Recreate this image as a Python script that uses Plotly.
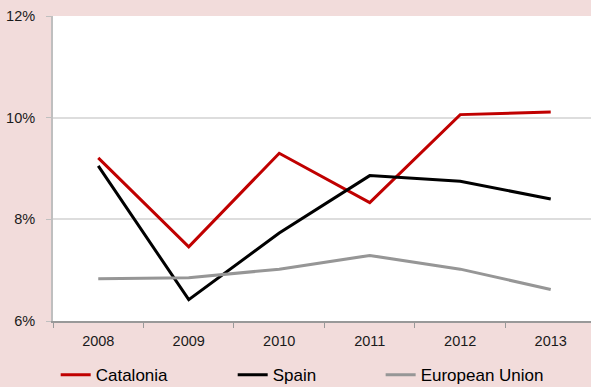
import plotly.graph_objects as go

# Unemployment-style rate series, 2008-2013 (percent)
years = ["2008", "2009", "2010", "2011", "2012", "2013"]
catalonia = [9.21, 7.46, 9.30, 8.33, 10.06, 10.11]
spain = [9.05, 6.42, 7.73, 8.86, 8.75, 8.40]
european_union = [6.83, 6.85, 7.02, 7.29, 7.02, 6.62]

y_ticks = [6, 8, 10, 12]
y_tick_labels = ["6%", "8%", "10%", "12%"]

FONT = "Liberation Sans, Arial, sans-serif"
PINK = "#F2DCDB"

fig = go.Figure()
series = [
    ("Catalonia", catalonia, "#C00000", "legend"),
    ("Spain", spain, "#000000", "legend2"),
    ("European Union", european_union, "#969696", "legend3"),
]
for name, vals, color, leg in series:
    fig.add_trace(go.Scatter(
        x=years, y=vals, name=name, mode="lines",
        line=dict(color=color, width=3),
        legend=leg,
    ))

legend_common = dict(
    orientation="h", yanchor="middle", xanchor="left", y=-0.178,
    bgcolor="rgba(0,0,0,0)", borderwidth=0,
    font=dict(family=FONT, size=17, color="#000000"),
)

fig.update_layout(
    width=591, height=387,
    margin=dict(l=53, r=0, t=16, b=66, autoexpand=False),
    paper_bgcolor=PINK, plot_bgcolor="#FFFFFF",
    showlegend=True,
    legend=dict(x=0.005, **legend_common),
    legend2=dict(x=0.334, **legend_common),
    legend3=dict(x=0.609, **legend_common),
    xaxis=dict(
        type="category", range=[-0.5, 5.445], automargin=False,
        showgrid=False, showline=True, linecolor="#999999", linewidth=2,
        ticks="outside", tickson="boundaries", ticklen=5, tickcolor="#999999",
        tickfont=dict(family=FONT, size=14.5, color="#1A1A1A"),
        ticklabelstandoff=6,
        fixedrange=True,
    ),
    yaxis=dict(
        range=[6, 12], tickvals=y_ticks, ticktext=y_tick_labels, automargin=False,
        showgrid=True, gridcolor="#DDDDDD", gridwidth=1.5,
        showline=True, linecolor="#BFBFBF", linewidth=2,
        ticks="outside", ticklen=5, tickcolor="#BFBFBF",
        tickfont=dict(family=FONT, size=14.5, color="#1A1A1A"),
        ticklabelstandoff=8, zeroline=False,
    ),
)

fig.write_html("out.html")
